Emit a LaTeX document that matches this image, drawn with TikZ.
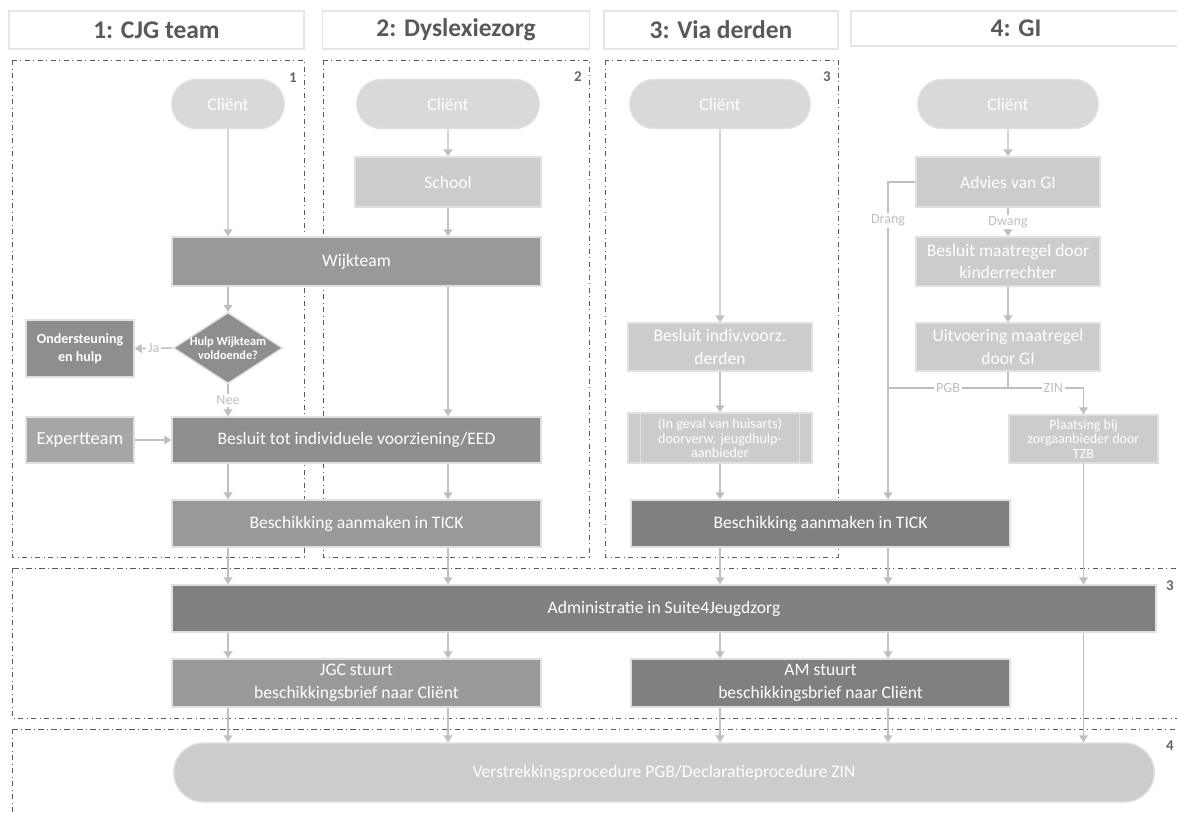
\documentclass[tikz,border=0pt]{standalone}
\usepackage{fontspec}
\setmainfont{Carlito}
\usepackage{tikz}
\usetikzlibrary{arrows.meta,calc,shapes.geometric,shapes.misc}
\definecolor{cjgclient}{HTML}{D9D9D9}
\definecolor{cjglight}{HTML}{CCCCCC}
\definecolor{cjgmid}{HTML}{999999}
\definecolor{cjgdark}{HTML}{8E8E8E}
\definecolor{cjgdeep}{HTML}{808080}
\definecolor{cjgexp}{HTML}{A6A6A6}
\definecolor{cjgline}{HTML}{BFBFBF}
\definecolor{cjgink}{HTML}{595959}

\begin{document}
\begin{tikzpicture}[x=0.02cm,y=-0.02cm,
    wh/.style 2 args={minimum width={#1*0.02cm},minimum height={#2*0.02cm}},
    box/.style={rectangle,draw=black!12,line width=0.8pt,text=white,align=center,
      inner sep=1pt,font=\fontsize{10}{13}\selectfont},
    client/.style={box,rounded rectangle,fill=cjgclient},
    head/.style={rectangle,draw=black!10,line width=1pt,text=cjgink,
      font=\fontsize{14.5}{16}\selectfont\bfseries},
    lane/.style={draw=black!65,dash dot,line width=0.5pt},
    lanenr/.style={text=black!60,font=\fontsize{8.5}{9}\selectfont\bfseries},
    arr/.style={draw=cjgline,line width=0.8pt,-{Triangle[width=5pt,length=4pt]}},
    lin/.style={draw=cjgline,line width=0.8pt},
    lbl/.style={fill=white,text=cjgline,inner sep=1pt,font=\fontsize{8}{9}\selectfont},
    small/.style={font=\fontsize{8}{8.2}\selectfont}]
  \useasboundingbox (0,0) rectangle (1177,812);

  % kolomkoppen
  \node[head,wh={295}{38}] (h1) at (156.5,30) {1: CJG team};
  \node[head,wh={267}{38}] (h2) at (456,30) {2: Dyslexiezorg};
  \node[head,wh={234}{38}] (h3) at (721,30) {3: Via derden};
  \node[head,wh={330}{35}] (h4) at (1016,28.5) {4: GI};

  % kaders
  \draw[lane] (12,60) rectangle (304,557);
  \draw[lane] (323,60) rectangle (589,557);
  \draw[lane] (605,60) rectangle (838,557);
  \draw[lane] (12,568) rectangle (1185,718);
  \draw[lane] (12,729) rectangle (1185,820);
  \node[lanenr] (n1) at (293,78) {1};
  \node[lanenr] (n2) at (578,77) {2};
  \node[lanenr] (n3) at (827,77) {3};
  \node[lanenr] (n4) at (1170,586) {3};
  \node[lanenr] (n5) at (1170,746) {4};

  % 1 en 2
  \node[client,wh={116}{49}] (c1) at (228,104) {Cliënt};
  \node[client,wh={186}{49}] (c2) at (448,104) {Cliënt};
  \node[box,fill=cjglight,wh={186}{50}] (school) at (448,182) {School};
  \node[box,fill=cjgmid,wh={369}{49}] (wijk) at (356.5,261.5) {Wijkteam};
  \node[box,diamond,fill=cjgdark,wh={109}{55},inner sep=-4pt,
    font=\fontsize{7}{8}\selectfont\bfseries] (dia) at (228,348) {Hulp Wijkteam\\voldoende?};
  \node[box,fill=cjgdark,wh={108}{57},font=\fontsize{8}{10.5}\selectfont\bfseries]
    (onder) at (80,348.5) {Ondersteuning\\en hulp};
  \node[box,fill=cjgexp,wh={108}{46},font=\fontsize{10.5}{12}\selectfont]
    (expert) at (80,440) {Expertteam};
  \node[box,fill=cjgdark,wh={369}{46}] (besluit) at (356.5,440) {Besluit tot individuele voorziening/EED};
  \node[box,fill=cjgmid,wh={369}{47}] (tick1) at (356.5,523.5) {Beschikking aanmaken in TICK};

  % 3
  \node[client,wh={184}{49}] (c3) at (720,104) {Cliënt};
  \node[box,fill=cjglight,wh={184}{48}] (bind) at (720,347) {Besluit indiv.voorz.\\derden};
  \node[box,fill=cjglight,wh={184}{50},small] (huis) at (720,438)
    {(In geval van huisarts)\\doorverw. jeugdhulp-\\aanbieder};
  \draw[draw=black!12,line width=0.8pt] ($(huis.north west)+(13,0)$) -- ($(huis.south west)+(13,0)$)
    ($(huis.north east)+(-13,0)$) -- ($(huis.south east)+(-13,0)$);
  \node[box,fill=cjgdeep,wh={379}{47}] (tick2) at (820.5,523.5) {Beschikking aanmaken in TICK};

  % 4
  \node[client,wh={184}{49}] (c4) at (1008,104) {Cliënt};
  \node[box,fill=cjglight,wh={184}{50}] (advies) at (1008,182) {Advies van GI};
  \node[box,fill=cjglight,wh={184}{49}] (kinder) at (1008,261.5) {Besluit maatregel door\\kinderrechter};
  \node[box,fill=cjglight,wh={184}{48}] (uitv) at (1008,347) {Uitvoering maatregel\\door GI};
  \node[box,fill=cjglight,wh={149}{48},small] (plaats) at (1083.5,439)
    {Plaatsing bij\\zorgaanbieder door\\TZB};
  \coordinate (drang) at (888,182);
  \coordinate (split) at (1008,388);

  % onderste banden
  \node[box,fill=cjgdeep,wh={984}{47}] (admin) at (664,608.5) {Administratie in Suite4Jeugdzorg};
  \node[box,fill=cjgmid,wh={369}{48}] (jgc) at (356.5,683) {JGC stuurt\\beschikkingsbrief naar Cliënt};
  \node[box,fill=cjgdeep,wh={379}{48}] (am) at (820.5,683) {AM stuurt\\beschikkingsbrief naar Cliënt};
  \node[box,rounded rectangle,fill=cjglight,wh={984}{59}] (verstr) at (664,772.5)
    {Verstrekkingsprocedure PGB/Declaratieprocedure ZIN};

  % verbindingen 1 en 2
  \draw[arr] (c1) -- (c1 |- wijk.north);
  \draw[arr] (c2) -- (school);
  \draw[arr] (school) -- (school |- wijk.north);
  \draw[arr] (dia |- wijk.south) -- (dia.north);
  \draw[arr] (dia.west) -- node[lbl]{Ja} (onder.east);
  \draw[arr] (dia.south) -- node[lbl]{Nee} (besluit.north -| dia);
  \draw[arr] (school |- wijk.south) -- (school |- besluit.north);
  \draw[arr] (expert) -- (besluit);
  \foreach \k in {c1,c2} {
    \draw[arr] (\k |- besluit.south) -- (\k |- tick1.north);
    \draw[arr] (\k |- tick1.south) -- (\k |- admin.north);
    \draw[arr] (\k |- admin.south) -- (\k |- jgc.north);
    \draw[arr] (\k |- jgc.south) -- (\k |- verstr.north);
  }

  % verbindingen 3 en 4
  \draw[arr] (c3) -- (bind);
  \draw[arr] (bind) -- (huis);
  \draw[arr] (huis) -- (huis |- tick2.north);
  \draw[arr] (c4) -- (advies);
  \draw[arr] (advies) -- node[lbl]{Dwang} (kinder);
  \draw[arr] (kinder) -- (uitv);
  \draw[arr] (advies.west) -- (drang) -- node[lbl,pos=0.12]{Drang} (drang |- tick2.north);
  \draw[lin] (uitv.south) -- (split) -- node[lbl]{PGB} (split -| drang);
  \draw[arr] (split) -- node[lbl,pos=0.6]{ZIN} (split -| plaats) -- (plaats.north);
  \foreach \k in {c3,drang} {
    \draw[arr] (\k |- tick2.south) -- (\k |- admin.north);
    \draw[arr] (\k |- admin.south) -- (\k |- am.north);
    \draw[arr] (\k |- am.south) -- (\k |- verstr.north);
  }
  \draw[arr] (plaats) -- (plaats |- admin.north);
  \draw[arr] (plaats |- admin.south) -- (plaats |- verstr.north);
\end{tikzpicture}
\end{document}
